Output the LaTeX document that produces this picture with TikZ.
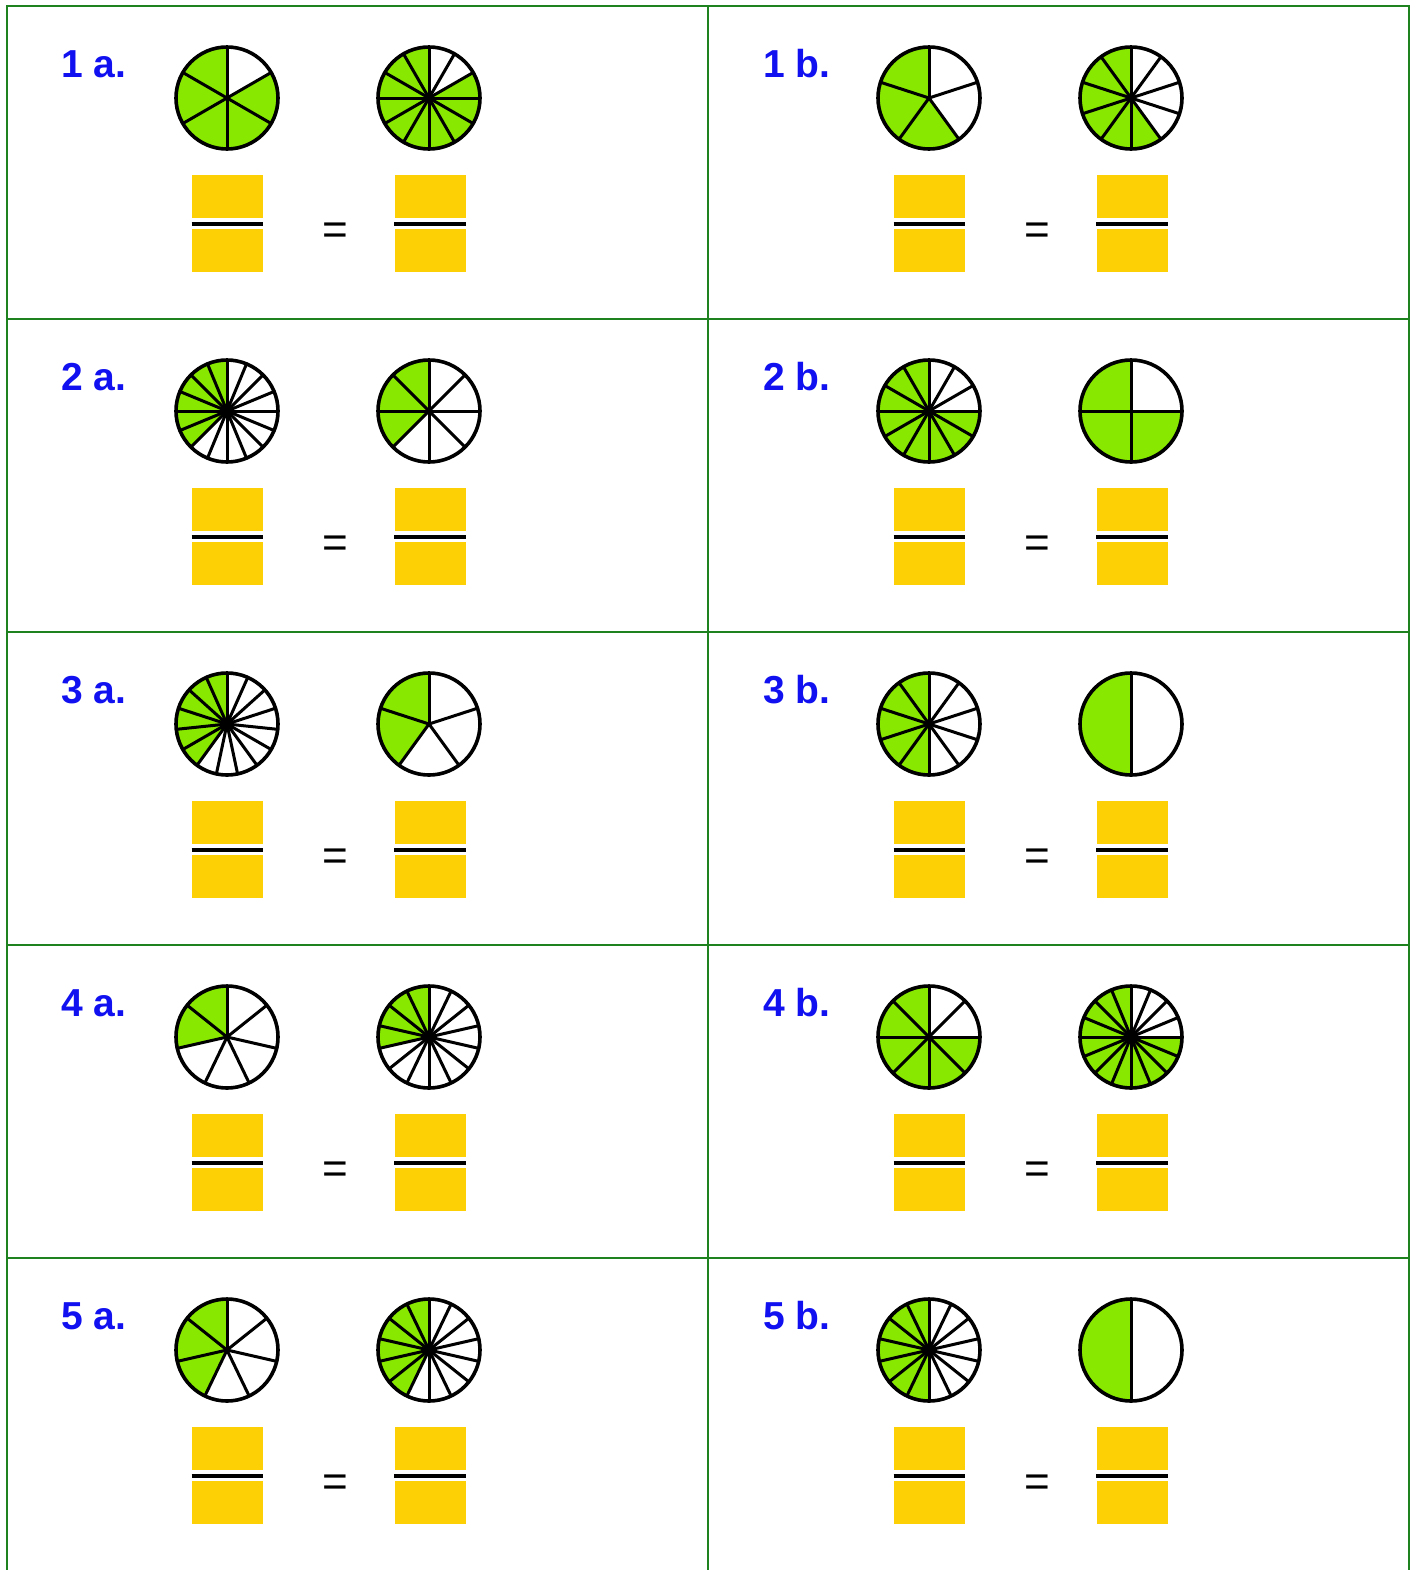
\documentclass[tikz,border=0pt]{standalone}
\usepackage{fontspec}
\setmainfont{Liberation Sans}
\usepackage{tikz}
\usetikzlibrary{positioning}
\definecolor{piegreen}{RGB}{136,232,0}
\definecolor{boxgold}{RGB}{252,208,5}
\definecolor{labelblue}{RGB}{16,16,240}
\definecolor{gridgreen}{RGB}{30,130,30}
\tikzset{
  piefill/.style={fill=piegreen},
  spoke/.style={line width=1.5pt, line cap=round},
  rim/.style={line width=1.8pt},
  ansbox/.style={fill=boxgold, minimum width=35.5pt, minimum height=21.5pt,
    inner sep=0pt},
  fracbar/.style={line width=1.7pt},
  cellline/.style={draw=gridgreen, line width=1.2pt},
  numlabel/.style={font=\fontsize{19.5}{19.5}\selectfont\bfseries,
    text=labelblue, anchor=base west, inner sep=0pt},
  eqsign/.style={font=\fontsize{22}{22}\selectfont, inner sep=0pt},
}
% pie: centre x, centre y, slices, shaded slices
\newcommand{\fracpie}[4]{%
  \coordinate (pc) at ({#1},{#2});
  \fill[piefill] (pc) -- ++(90:51) arc[start angle=90, delta angle={360*#4/#3}, radius=51] -- cycle;
  \foreach \s in {1,...,#3}
    \draw[spoke] (pc) -- ++({90+360*\s/#3}:51);
  \draw[rim] (pc) circle[radius=51];
}
% cell: name, x shift, y shift, label, left pie, right pie
\newcommand{\fraccell}[8]{%
  \node[numlabel] (#1-lab) at ({#2+61},{-#3-77}) {#4};
  \fracpie{#2+227}{-#3-98}{#5}{#6}
  \fracpie{#2+429}{-#3-98}{#7}{#8}
  \node[ansbox] (#1-na) at ({#2+227.5},{-#3-196}) {};
  \node[ansbox, below=5.5pt of #1-na] (#1-da) {};
  \node[ansbox] (#1-nb) at ({#2+430},{-#3-196}) {};
  \node[ansbox, below=5.5pt of #1-nb] (#1-db) {};
  \draw[fracbar] ([yshift=-3pt]#1-na.south west) -- ([yshift=-3pt]#1-na.south east);
  \draw[fracbar] ([yshift=-3pt]#1-nb.south west) -- ([yshift=-3pt]#1-nb.south east);
  \node[eqsign] (#1-eq) at ({#2+335},{-#3-234}) {=};
}

\begin{document}
\begin{tikzpicture}[x=0.5pt, y=0.5pt]
  \useasboundingbox (0,0) rectangle (1417,-1570);

  % grid
  \draw[cellline] (7,-1580) -- (7,-6) -- (1409,-6) -- (1409,-1580);
  \draw[cellline] (708,-6) -- (708,-1580);
  \foreach \r in {319,632,945,1258}
    \draw[cellline] (7,-\r) -- (1409,-\r);

  % row 1
  \fraccell{c1a}{0}{0}{1 a.}{6}{5}{12}{10}
  \fraccell{c1b}{702}{0}{1 b.}{5}{3}{10}{6}
  % row 2
  \fraccell{c2a}{0}{313}{2 a.}{16}{6}{8}{3}
  \fraccell{c2b}{702}{313}{2 b.}{12}{9}{4}{3}
  % row 3
  \fraccell{c3a}{0}{626}{3 a.}{15}{6}{5}{2}
  \fraccell{c3b}{702}{626}{3 b.}{10}{5}{2}{1}
  % row 4
  \fraccell{c4a}{0}{939}{4 a.}{7}{2}{14}{4}
  \fraccell{c4b}{702}{939}{4 b.}{8}{6}{16}{12}
  % row 5
  \fraccell{c5a}{0}{1252}{5 a.}{7}{3}{14}{6}
  \fraccell{c5b}{702}{1252}{5 b.}{14}{7}{2}{1}
\end{tikzpicture}
\end{document}
